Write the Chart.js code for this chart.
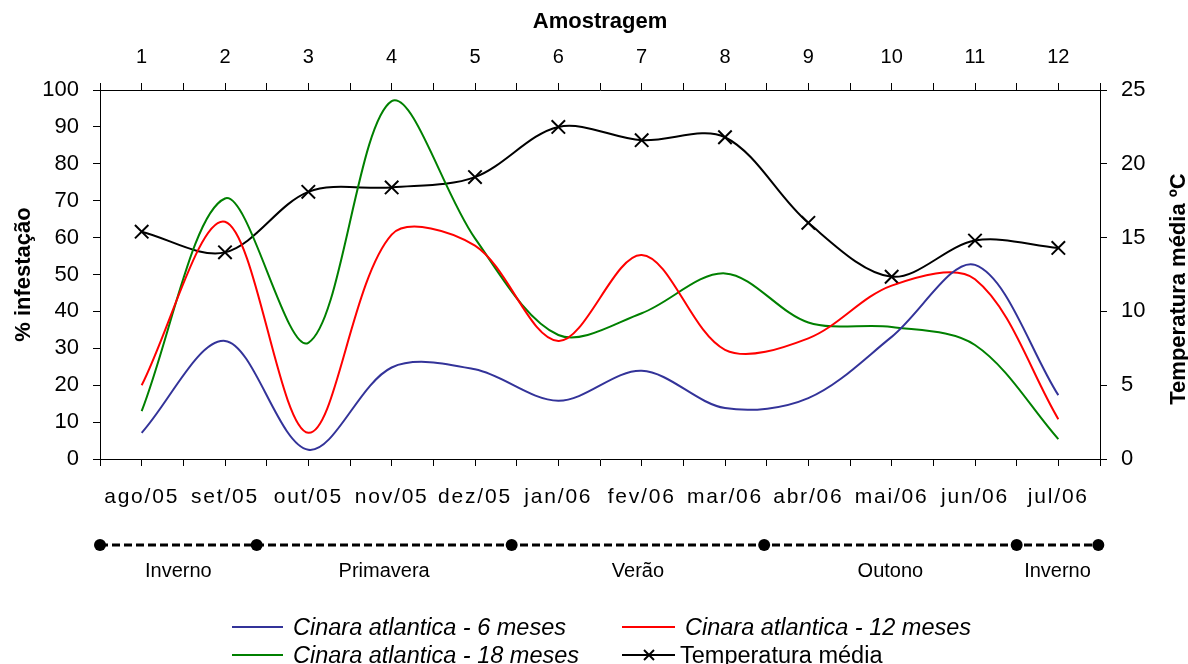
<!DOCTYPE html>
<html>
<head>
<meta charset="utf-8">
<script src="https://cdn.jsdelivr.net/npm/chart.js@4"></script>
<style>
  body { margin: 0; background: #fff; }
  #wrap { position: relative; width: 1188px; height: 664px; overflow: hidden; font-family: "Liberation Sans", Arial, sans-serif; }
  #chart { position: absolute; left: 0; top: 0; }
  .leg { position: absolute; height: 28px; line-height: 28px; font-size: 23.5px; color: #000; white-space: nowrap; }
  .leg svg { position: absolute; left: 0; top: 0; }
  .leg span { position: absolute; top: 0; }
  .it { font-style: italic; }
</style>
</head>
<body>
<div id="wrap">
  <canvas id="chart" width="1188" height="664"></canvas>
  <div class="leg" style="left:232px; top:613px;">
    <svg width="52" height="28"><line x1="0" y1="14" x2="51" y2="14" stroke="#333399" stroke-width="2"/></svg>
    <span class="it" style="left:61px;">Cinara atlantica - 6 meses</span>
  </div>
  <div class="leg" style="left:622px; top:613px;">
    <svg width="54" height="28"><line x1="0" y1="14" x2="53" y2="14" stroke="#ff0000" stroke-width="2"/></svg>
    <span class="it" style="left:63px;">Cinara atlantica - 12 meses</span>
  </div>
  <div class="leg" style="left:232px; top:641px;">
    <svg width="52" height="28"><line x1="0" y1="14" x2="51" y2="14" stroke="#008000" stroke-width="2"/></svg>
    <span class="it" style="left:61px;">Cinara atlantica - 18 meses</span>
  </div>
  <div class="leg" style="left:622px; top:641px;">
    <svg width="54" height="28"><line x1="0" y1="14" x2="53" y2="14" stroke="#000" stroke-width="2"/>
      <line x1="22" y1="9" x2="32" y2="19" stroke="#000" stroke-width="2"/><line x1="32" y1="9" x2="22" y2="19" stroke="#000" stroke-width="2"/></svg>
    <span style="left:58px;">Temperatura média</span>
  </div>
</div>
<script>
// Data
const months = ['ago/05', 'set/05', 'out/05', 'nov/05', 'dez/05', 'jan/06', 'fev/06', 'mar/06', 'abr/06', 'mai/06', 'jun/06', 'jul/06'];
const samples = [1, 2, 3, 4, 5, 6, 7, 8, 9, 10, 11, 12];
const infest6 = [7.1, 32, 2.5, 24.8, 24.3, 15.8, 23.9, 13.8, 16.5, 33.1, 52.6, 17.3];
const infest12 = [20, 64.3, 7.1, 60.8, 57.8, 32, 55.3, 29.6, 32.7, 47.0, 48.7, 10.8];
const infest18 = [13, 70.6, 31.5, 97, 59.8, 33.6, 39.5, 50.3, 37, 35.8, 30.9, 5.4];
const temperature = [15.4, 14.0, 18.1, 18.4, 19.1, 22.5, 21.6, 21.8, 16.0, 12.35, 14.8, 14.3];

// season boundaries in sample units, and names between them
const seasonBounds = [0.5, 2.38, 5.44, 8.47, 11.5, 12.48];
const seasonNames = ['Inverno', 'Primavera', 'Verão', 'Outono', 'Inverno'];

const FONT = '"Liberation Sans", Arial, sans-serif';

function toPoints(values) {
    return samples.map((s, i) => ({ x: s, y: values[i] }));
}

const seasonPlugin = {
    id: 'seasons',
    beforeDraw(chart) {
        // month labels in the reference are spaced out a bit
        const xs = chart.scales.x;
        if (xs && !xs._spaced) {
            const orig = xs.drawLabels;
            xs.drawLabels = function(area) {
                this.ctx.letterSpacing = '1.8px';
                orig.call(this, area);
                this.ctx.letterSpacing = '0px';
            };
            xs._spaced = true;
        }
    },
    afterDraw(chart) {
        const ctx = chart.ctx;
        const x = chart.scales.x;
        const y = 545;
        ctx.save();
        ctx.strokeStyle = '#000';
        ctx.lineWidth = 3;
        ctx.setLineDash([8, 4]);
        ctx.beginPath();
        ctx.moveTo(x.getPixelForValue(seasonBounds[0]), y);
        ctx.lineTo(x.getPixelForValue(seasonBounds[seasonBounds.length - 1]), y);
        ctx.stroke();
        ctx.setLineDash([]);
        ctx.fillStyle = '#000';
        seasonBounds.forEach(b => {
            ctx.beginPath();
            ctx.arc(x.getPixelForValue(b), y, 6, 0, Math.PI * 2);
            ctx.fill();
        });
        ctx.font = '20px ' + FONT;
        ctx.textAlign = 'center';
        ctx.textBaseline = 'middle';
        seasonNames.forEach((name, i) => {
            const mid = (seasonBounds[i] + seasonBounds[i + 1]) / 2;
            ctx.fillText(name, x.getPixelForValue(mid), 571);
        });

        // right axis title, reading bottom to top
        ctx.translate(1179, 289);
        ctx.rotate(-Math.PI / 2);
        ctx.font = 'bold 22px ' + FONT;
        ctx.fillText('Temperatura média ºC', 0, 0);
        ctx.restore();
    }
};

const tickFont = { family: FONT, size: 22 };
const titleFont = { family: FONT, size: 22, weight: 'bold' };
const axisGrid = { display: true, drawOnChartArea: false, drawTicks: true, tickLength: 7, color: '#000' };
const axisBorder = { display: true, color: '#000', width: 1 };

new Chart(document.getElementById('chart'), {
    type: 'line',
    data: {
        datasets: [
            {
                label: 'Cinara atlantica - 6 meses',
                data: toPoints(infest6),
                borderColor: '#333399',
                borderWidth: 2,
                pointRadius: 0,
                tension: 0.33,
                yAxisID: 'y'
            },
            {
                label: 'Cinara atlantica - 12 meses',
                data: toPoints(infest12),
                borderColor: '#ff0000',
                borderWidth: 2,
                pointRadius: 0,
                tension: 0.33,
                yAxisID: 'y'
            },
            {
                label: 'Cinara atlantica - 18 meses',
                data: toPoints(infest18),
                borderColor: '#008000',
                borderWidth: 2,
                pointRadius: 0,
                tension: 0.33,
                yAxisID: 'y'
            },
            {
                label: 'Temperatura média',
                data: toPoints(temperature),
                borderColor: '#000',
                backgroundColor: '#000',
                borderWidth: 2,
                pointStyle: 'crossRot',
                pointRadius: 9.5,
                pointBorderWidth: 2,
                tension: 0.33,
                yAxisID: 'y1'
            }
        ]
    },
    options: {
        responsive: false,
        animation: false,
        layout: { padding: 0 },
        plugins: {
            legend: { display: false },
            tooltip: { enabled: false }
        },
        scales: {
            x: {
                type: 'linear',
                position: 'bottom',
                min: 0.5,
                max: 12.5,
                grid: axisGrid,
                border: axisBorder,
                ticks: {
                    stepSize: 0.5,
                    autoSkip: false,
                    maxRotation: 0,
                    padding: 19,
                    color: '#000',
                    font: { family: FONT, size: 21 },
                    callback: v => Number.isInteger(v) ? months[v - 1] : ''
                },
                afterFit: s => { s.height = 664 - 459; }
            },
            x2: {
                type: 'linear',
                position: 'top',
                min: 0.5,
                max: 12.5,
                grid: axisGrid,
                border: axisBorder,
                title: { display: true, text: 'Amostragem', color: '#000', font: titleFont, padding: { top: 9, bottom: 0 } },
                ticks: {
                    stepSize: 0.5,
                    autoSkip: false,
                    maxRotation: 0,
                    padding: 14,
                    color: '#000',
                    font: { family: FONT, size: 20 },
                    callback: v => Number.isInteger(v) ? String(v) : ''
                },
                afterFit: s => { s.height = 90; }
            },
            y: {
                position: 'left',
                min: 0,
                max: 100,
                grid: axisGrid,
                border: axisBorder,
                title: { display: true, text: '% infestação', color: '#000', font: titleFont, padding: { top: 11, bottom: 0 } },
                ticks: { stepSize: 10, padding: 14, color: '#000', font: tickFont },
                afterFit: s => { s.width = 100; }
            },
            y1: {
                position: 'right',
                min: 0,
                max: 25,
                grid: axisGrid,
                border: axisBorder,
                ticks: { stepSize: 5, padding: 14, color: '#000', font: tickFont },
                afterFit: s => { s.width = 88; }
            }
        }
    },
    plugins: [seasonPlugin]
});
</script>
</body>
</html>
